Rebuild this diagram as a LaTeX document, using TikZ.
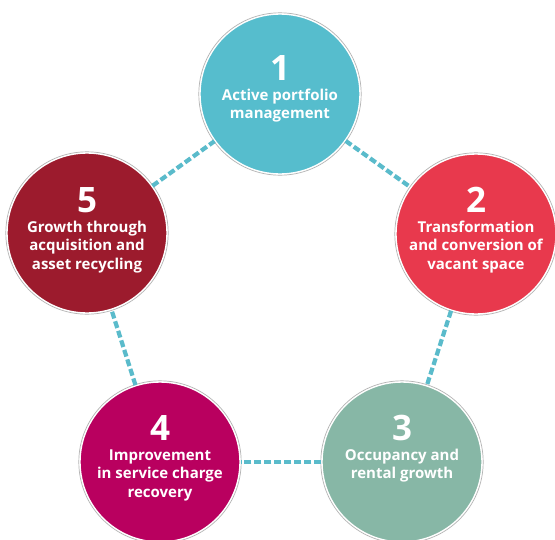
\documentclass[tikz,border=0pt]{standalone}
\usepackage{fontspec}
\setmainfont{Open Sans}
\definecolor{cActive}{HTML}{56BDCD}
\definecolor{cTransf}{HTML}{E8394D}
\definecolor{cOccup}{HTML}{87B7A6}
\definecolor{cImprov}{HTML}{B9005F}
\definecolor{cGrowth}{HTML}{9C1B2D}
\definecolor{linkteal}{HTML}{5ABBCB}
\definecolor{ringgray}{HTML}{B4B4B4}
\begin{document}
\begin{tikzpicture}[x=1pt,y=-1pt,
  stage/.style={circle, inner sep=0pt, minimum size=160pt, draw=white, line width=1.4pt},
  ring/.style={draw=ringgray, line width=0.7pt},
  link/.style={draw=linkteal, line width=4.2pt, dash pattern=on 7pt off 3pt},
  numtxt/.style={text=white, anchor=base, inner sep=0pt, font=\fontsize{35}{36}\selectfont\bfseries},
  lbltxt/.style={text=white, anchor=base, inner sep=0pt, align=center, font=\fontsize{15}{18.5}\selectfont\bfseries}]
\clip (0,0) rectangle (555,539);
\fill[white] (0,0) rectangle (555,539);

% the five stages
\node[stage, fill=cActive] (s1) at (280,94) {};
\node[stage, fill=cTransf] (s2) at (476,234) {};
\node[stage, fill=cOccup]  (s3) at (402,462) {};
\node[stage, fill=cImprov] (s4) at (160,462) {};
\node[stage, fill=cGrowth] (s5) at (87,233) {};
\foreach \s in {s1,s2,s3,s4,s5} \draw[ring] (\s.center) circle (81.2pt);

% dashed links around the cycle
\draw[link] (s1) -- (s2);
\draw[link] (s2) -- (s3);
\draw[link] (s3) -- (s4);
\draw[link] (s4) -- (s5);
\draw[link] (s5) -- (s1);

% labels (a multi-line node's base is its last baseline)
\node[numtxt] (n1) at (280,80) {1};
\node[lbltxt] (l1) at (280,118.5) {Active portfolio\\management};
\node[numtxt] (n2) at (476,212) {2};
\node[lbltxt] (l2) at (476,269) {Transformation\\and conversion of\\vacant space};
\node[numtxt] (n3) at (402,440) {3};
\node[lbltxt] (l3) at (402,478.5) {Occupancy and\\rental growth};
\node[numtxt] (n4) at (160,440) {4};
\node[lbltxt] (l4) at (160,497) {Improvement\\in service charge\\recovery};
\node[numtxt] (n5) at (87,212) {5};
\node[lbltxt] (l5) at (87,269) {Growth through\\acquisition and\\asset recycling};
\end{tikzpicture}
\end{document}
